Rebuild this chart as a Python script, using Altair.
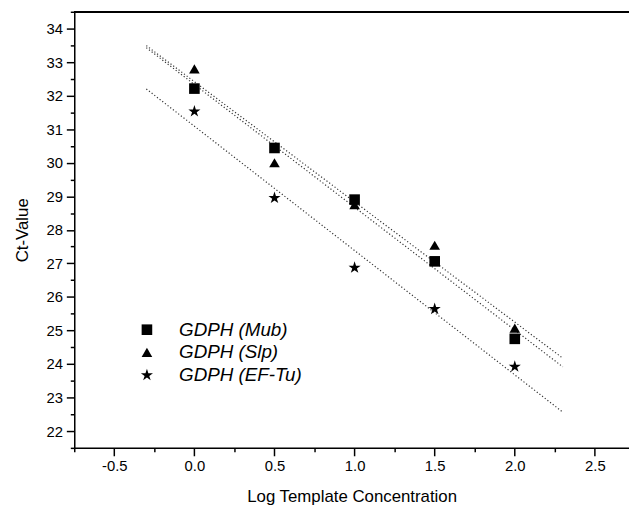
import altair as alt
import pandas as pd

# ---- data ----
log_conc = [0.0, 0.5, 1.0, 1.5, 2.0]
ct_mub = [32.21, 30.44, 28.90, 27.06, 24.75]
ct_slp = [32.80, 30.00, 28.75, 27.54, 25.07]
ct_eftu = [31.53, 28.95, 26.87, 25.64, 23.92]
series_names = ["GDPH (Mub)", "GDPH (Slp)", "GDPH (EF-Tu)"]
fit_extent = [-0.3, 2.3]

x_tick_values = [-0.75, -0.5, -0.25, 0.0, 0.25, 0.5, 0.75, 1.0, 1.25, 1.5,
                 1.75, 2.0, 2.25, 2.5]
y_tick_values = [21.5, 22, 22.5, 23, 23.5, 24, 24.5, 25, 25.5, 26, 26.5, 27,
                 27.5, 28, 28.5, 29, 29.5, 30, 30.5, 31, 31.5, 32, 32.5, 33,
                 33.5, 34, 34.5]

rows = []
for name, vals in zip(series_names, [ct_mub, ct_slp, ct_eftu]):
    for xv, yv in zip(log_conc, vals):
        rows.append({"series": name, "x": xv, "y": yv})
df = pd.DataFrame(rows)

# five-pointed star symbol (slightly enlarged unit path)
STAR = ("M0,-1.2L0.27,-0.37L1.14,-0.37L0.44,0.14L0.71,0.97L0,0.46"
        "L-0.71,0.97L-0.44,0.14L-1.14,-0.37L-0.27,-0.37Z")

W, H = 561, 441
FONT = "Liberation Sans"

x_scale = alt.Scale(domain=[-0.75, 2.713], nice=False, zero=False)
y_scale = alt.Scale(domain=[21.5, 34.5], nice=False, zero=False)

x_axis = alt.Axis(
    values=x_tick_values,
    title="Log Template Concentration",
    labelExpr="(datum.value*2) % 1 == 0 ? ((datum.value < 0 ? '-' : '') + format(abs(datum.value), '.1f')) : ''",
    tickSize={"condition": {"test": "(datum.value*2) % 1 != 0", "value": 4}, "value": 8},
    labelFlush=False, labelOverlap=False, labelBound=False,
    grid=False, domainColor="black", domainWidth=1.5, tickColor="black", tickWidth=1.5,
    labelFont=FONT, labelFontSize=15, labelColor="black", labelPadding=3,
    titleFont=FONT, titleFontSize=17, titleFontWeight="normal", titleColor="black",
    titlePadding=15,
)
y_axis = alt.Axis(
    values=y_tick_values,
    title="Ct-Value",
    labelExpr="datum.value % 1 == 0 ? format(datum.value, 'd') : ''",
    tickSize={"condition": {"test": "datum.value % 1 != 0", "value": 4}, "value": 8},
    labelFlush=False, labelOverlap=False, labelBound=False,
    grid=False, domainColor="black", domainWidth=1.5, tickColor="black", tickWidth=1.5,
    labelFont=FONT, labelFontSize=15, labelColor="black", labelPadding=4,
    titleFont=FONT, titleFontSize=17, titleFontWeight="normal", titleColor="black",
    titlePadding=15,
)

base = alt.Chart(df)

points = base.mark_point(filled=True, color="black", opacity=1, size=115).encode(
    x=alt.X("x:Q", scale=x_scale, axis=x_axis),
    y=alt.Y("y:Q", scale=y_scale, axis=y_axis),
    shape=alt.Shape(
        "series:N",
        scale=alt.Scale(domain=series_names, range=["square", "triangle-up", STAR]),
        legend=alt.Legend(
            title=None, orient="none", legendX=64, legendY=312,
            labelFont=FONT, labelFontSize=19, labelFontStyle="italic",
            labelColor="black", labelOffset=23, rowPadding=3, padding=0,
            symbolFillColor="black", symbolStrokeColor="black",
            symbolSize=115, symbolStrokeWidth=0,
        ),
    ),
)

fits = base.transform_regression(
    "x", "y", groupby=["series"], extent=fit_extent
).mark_line(color="#333333", strokeWidth=1.2, strokeDash=[1.2, 2.2]).encode(
    x=alt.X("x:Q", scale=x_scale, axis=x_axis),
    y=alt.Y("y:Q", scale=y_scale, axis=y_axis),
    detail="series:N",
)

top_frame = alt.Chart(df).mark_rule(color="black", strokeWidth=1.5).encode(
    x=alt.value(0), x2=alt.value(W), y=alt.value(0)
)

chart = alt.layer(fits, points, top_frame).properties(
    width=W, height=H,
    autosize=alt.AutoSizeParams(type="none"),
    padding={"left": 67, "top": 1, "right": 0, "bottom": 58},
).configure_view(stroke=None).configure(background="white")

chart.save("out.html", embed_options={"renderer": "svg", "actions": False})
